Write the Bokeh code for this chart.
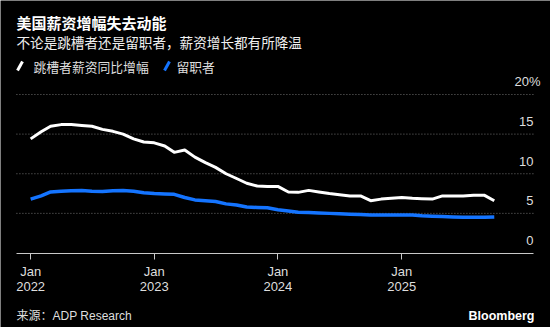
import pandas as pd
from bokeh.plotting import figure
from bokeh.models import Range1d, FixedTicker, Label, Arrow
from bokeh.core.properties import value
from bokeh.embed import file_html
from bokeh.resources import INLINE

# ---------------- data ----------------
months = pd.date_range("2022-01-01", "2025-10-01", freq="MS")
job_changers = [14.4, 15.3, 16.0, 16.2, 16.2, 16.1, 16.0, 15.6, 15.35, 15.0, 14.4, 14.0,
                13.9, 13.5, 12.7, 13.0, 12.1, 11.4, 10.8, 10.0, 9.4, 8.8, 8.45, 8.4,
                8.4, 7.7, 7.65, 7.9, 7.7, 7.5, 7.35, 7.2, 7.2, 6.6, 6.8, 6.9,
                7.0, 6.9, 6.85, 6.8, 7.2, 7.2, 7.2, 7.3, 7.3, 6.6]
job_stayers = [6.8, 7.2, 7.7, 7.8, 7.85, 7.9, 7.8, 7.75, 7.85, 7.9, 7.8, 7.6,
               7.5, 7.45, 7.4, 7.0, 6.7, 6.6, 6.5, 6.2, 6.05, 5.8, 5.75, 5.7,
               5.45, 5.3, 5.15, 5.1, 5.05, 5.0, 4.95, 4.9, 4.85, 4.8, 4.8, 4.8,
               4.8, 4.8, 4.7, 4.65, 4.6, 4.55, 4.5, 4.5, 4.5, 4.55]
y_ticks = [0, 5, 10, 15]
y_tick_labels = ["0", "5", "10", "15"]
y_top_tick = [20]
y_top_label = ["20%"]
grid_ticks = [5, 10, 15, 20]
x_tick_dates = ["2022-01-01", "2023-01-01", "2024-01-01", "2025-01-01"]
x_tick_labels = ["Jan\n2022", "Jan\n2023", "Jan\n2024", "Jan\n2025"]

title = "美国薪资增幅失去动能"
subtitle = "不论是跳槽者还是留职者，薪资增长都有所降温"
legend_labels = ["跳槽者薪资同比增幅", "留职者"]
source_text = "来源：ADP Research"
brand = "Bloomberg"

# ---------------- style ----------------
WHITE = "#ffffff"
BLUE = "#1474ff"
TXT = "#dedede"
LATIN = "Liberation Sans, Noto Sans CJK SC"
CJK = "Noto Sans CJK SC"
W, H = 550, 327

# visible ranges (frame covers the whole canvas)
view_start = pd.Timestamp("2021-10-04")
view_end = pd.Timestamp("2026-03-16")
axis_start = pd.Timestamp("2021-11-20")
axis_end = pd.Timestamp("2026-01-25")

p = figure(width=W, height=H, x_axis_type="datetime", y_axis_location=None,
           output_backend="svg", toolbar_location=None,
           x_range=Range1d(view_start, view_end), y_range=Range1d(-9.40, 31.86),
           background_fill_color="black", border_fill_color="black",
           outline_line_color=None,
           min_border_left=0, min_border_right=0, min_border_top=0, min_border_bottom=0)

p.xgrid.visible = False
p.ygrid.visible = False

# dotted horizontal gridlines
p.segment(x0=[axis_start] * len(grid_ticks), x1=[axis_end] * len(grid_ticks),
          y0=grid_ticks, y1=grid_ticks, line_color="#6e6e6e", line_dash="1 2", line_width=1)

# x axis drawn at value 0 inside the frame
tick_ms = [pd.Timestamp(d).value // 10**6 for d in x_tick_dates]
ax = p.xaxis[0]
ax.fixed_location = 0
ax.bounds = (axis_start, axis_end)
ax.ticker = FixedTicker(ticks=tick_ms)
ax.major_label_overrides = {t: l for t, l in zip(tick_ms, x_tick_labels)}
ax.axis_line_color = "#c8c8c8"
ax.axis_line_width = 1
ax.major_tick_line_color = "#c8c8c8"
ax.major_tick_out = 6
ax.major_tick_in = 0
ax.minor_tick_line_color = None
ax.major_label_text_color = TXT
ax.major_label_text_font = LATIN
ax.major_label_text_font_size = "13px"
ax.major_label_text_line_height = 1.0
ax.major_label_standoff = 5

p.line(months, job_changers, line_color=WHITE, line_width=3, line_join="round")
p.line(months, job_stayers, line_color=BLUE, line_width=3.5, line_join="round")

# y tick labels above gridlines at right edge
p.text(x=[axis_end] * len(y_ticks), y=y_ticks, text=y_tick_labels, text_align="right",
       text_baseline="middle", y_offset=-12.5, text_color=TXT,
       text_font=value(LATIN), text_font_size="13px")
p.text(x=[axis_end] * len(y_top_tick), y=y_top_tick, text=y_top_label, text_align="right",
       text_baseline="middle", y_offset=-12.5, x_offset=7, text_color=TXT,
       text_font=value(LATIN), text_font_size="13px")

# header / footer texts, screen units (frame == canvas)
def lab(text, x, ytop, size, color, font, bold=False, align="left"):
    p.add_layout(Label(x=x, y=H - ytop, x_units="screen", y_units="screen", text=text,
                       text_font_size=size, text_color=color, text_font=font,
                       text_font_style="bold" if bold else "normal",
                       text_align=align, text_baseline="middle"))

lab(title, 16, 22, "15px", WHITE, CJK, bold=True)
lab(subtitle, 16, 41.5, "13.6px", "#f0f0f0", CJK)
lab(legend_labels[0], 33, 65.5, "12.8px", TXT, CJK)
lab(legend_labels[1], 176, 65.5, "12.8px", TXT, CJK)
lab(source_text, 16, 315.5, "12px", TXT, LATIN)
lab(brand, 534, 315, "12.5px", WHITE, LATIN, bold=True, align="right")

for x0, col in [(17, WHITE), (164, BLUE)]:
    p.add_layout(Arrow(x_start=x0, y_start=H - 70, x_end=x0 + 5, y_end=H - 61,
                       start_units="screen", end_units="screen", end=None,
                       line_color=col, line_width=3))

open("out.html", "w").write(file_html(p, INLINE))
